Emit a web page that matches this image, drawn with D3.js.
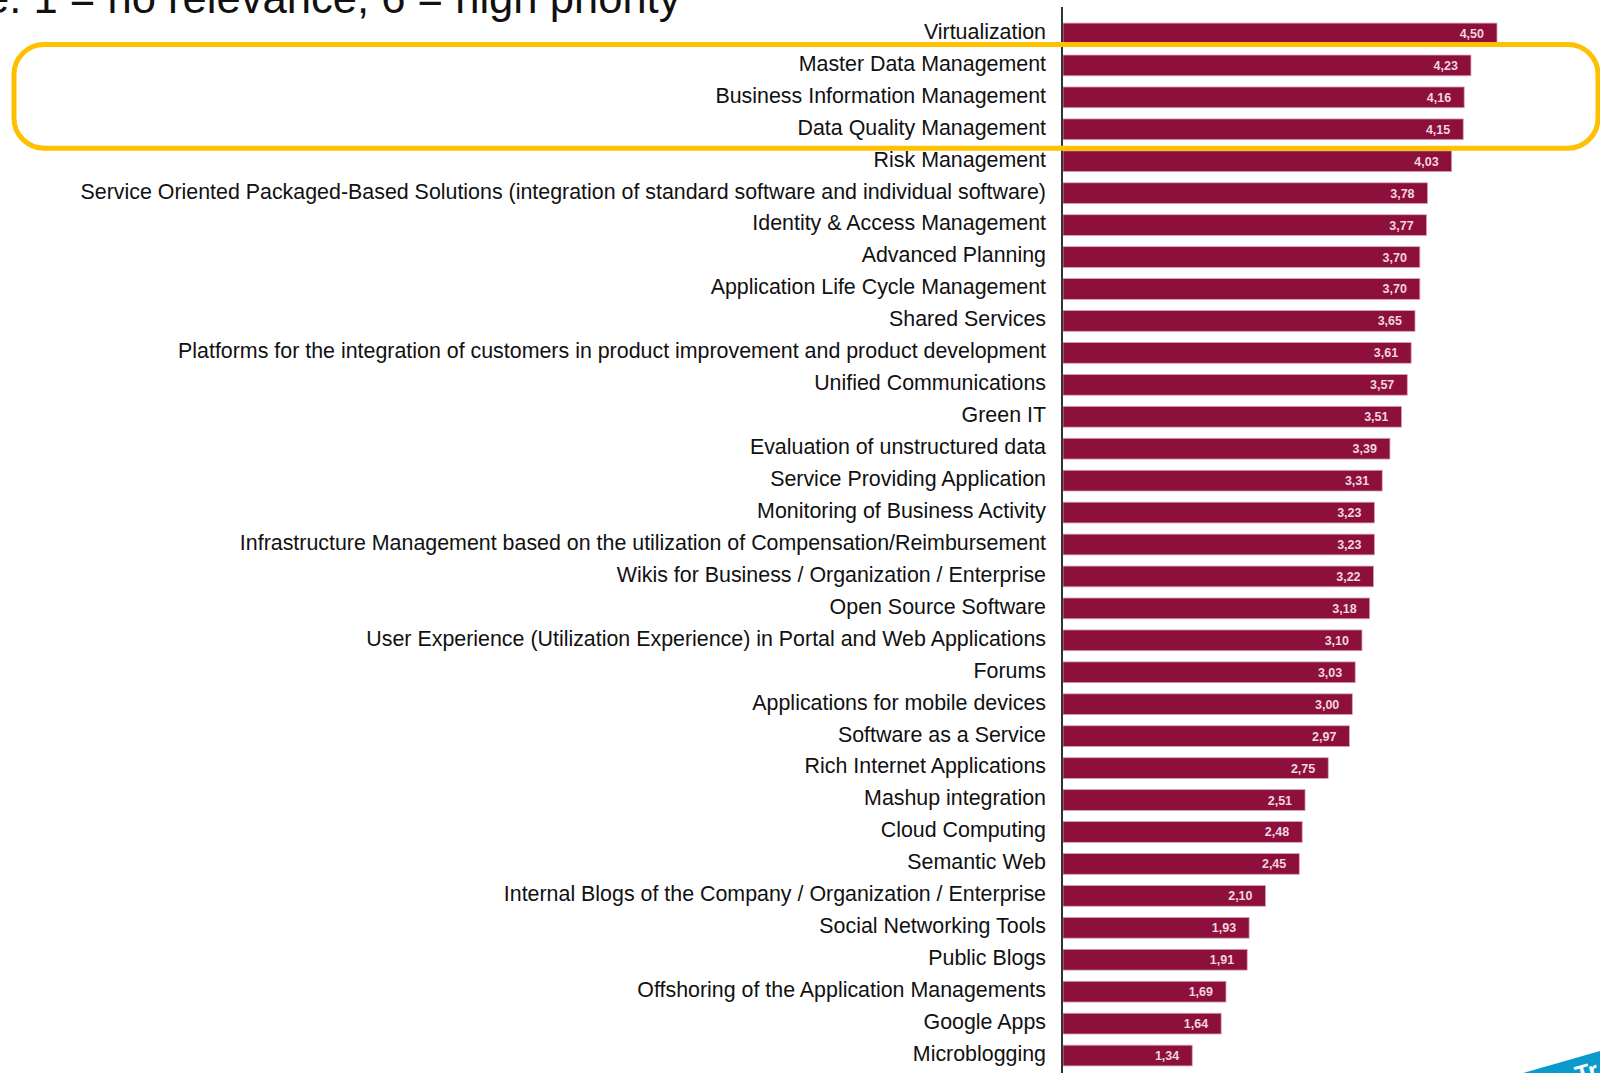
<!DOCTYPE html>
<html>
<head>
<meta charset="utf-8">
<script src="https://cdn.jsdelivr.net/npm/d3@7"></script>
<style>
  html, body { margin: 0; padding: 0; background: #ffffff; overflow: hidden; }
  svg { display: block; }
</style>
</head>
<body>
<svg id="chart" width="1600" height="1073"></svg>
<script>
const titleText = "e. 1 = no relevance, 6 = high priority";

const categories = [
  "Virtualization",
  "Master Data Management",
  "Business Information Management",
  "Data Quality Management",
  "Risk Management",
  "Service Oriented Packaged-Based Solutions (integration of standard software and individual software)",
  "Identity & Access Management",
  "Advanced Planning",
  "Application Life Cycle Management",
  "Shared Services",
  "Platforms for the integration of customers in product improvement and product development",
  "Unified Communications",
  "Green IT",
  "Evaluation of unstructured data",
  "Service Providing Application",
  "Monitoring of Business Activity",
  "Infrastructure Management based on the utilization of Compensation/Reimbursement",
  "Wikis for Business / Organization / Enterprise",
  "Open Source Software",
  "User Experience (Utilization Experience) in Portal and Web Applications",
  "Forums",
  "Applications for mobile devices",
  "Software as a Service",
  "Rich Internet Applications",
  "Mashup integration",
  "Cloud Computing",
  "Semantic Web",
  "Internal Blogs of the Company / Organization / Enterprise",
  "Social Networking Tools",
  "Public Blogs",
  "Offshoring of the Application Managements",
  "Google Apps",
  "Microblogging"
];

const values = [
  4.50, 4.23, 4.16, 4.15, 4.03, 3.78, 3.77, 3.70, 3.70, 3.65,
  3.61, 3.57, 3.51, 3.39, 3.31, 3.23, 3.23, 3.22, 3.18, 3.10,
  3.03, 3.00, 2.97, 2.75, 2.51, 2.48, 2.45, 2.10, 1.93, 1.91,
  1.69, 1.64, 1.34
];

const highlighted = ["Master Data Management", "Business Information Management", "Data Quality Management"];
const bannerText = "Tr";

const rows = categories.map((c, i) => ({ name: c, value: values[i] }));

const svg = d3.select("#chart");

const x = d3.scaleLinear().domain([0, 4.5]).range([1063, 1497]);
const y = d3.scaleBand()
  .domain(categories)
  .range([17.5, 17.5 + 33 * 31.94])
  .paddingInner(0.35)
  .paddingOuter(0.175);

const fmt = v => d3.format(".2f")(v).replace(".", ",");

// Title (clipped at top-left like the reference)
svg.append("text")
  .attr("x", -15)
  .attr("y", 13)
  .attr("font-family", "Liberation Sans, Arial, sans-serif")
  .attr("font-size", 43.6)
  .attr("fill", "#111")
  .text(titleText);

// Bars
svg.append("g").selectAll("rect")
  .data(rows)
  .join("rect")
  .attr("x", x(0))
  .attr("y", d => y(d.name))
  .attr("width", d => x(d.value) - x(0))
  .attr("height", y.bandwidth())
  .attr("fill", "#8d0f3b")
  .attr("stroke", "#d7a6b4")
  .attr("stroke-width", 0.8);

// Value labels inside bars
svg.append("g").selectAll("text")
  .data(rows)
  .join("text")
  .attr("x", d => x(d.value) - 13)
  .attr("y", d => y(d.name) + y.bandwidth() / 2)
  .attr("dy", "0.36em")
  .attr("text-anchor", "end")
  .attr("font-family", "Liberation Sans, Arial, sans-serif")
  .attr("font-weight", "bold")
  .attr("font-size", 12.5)
  .attr("fill", "#f0d6de")
  .text(d => fmt(d.value));

// Category axis labels
const yAxis = d3.axisLeft(y).tickSize(0).tickPadding(17);
const gAxis = svg.append("g")
  .attr("transform", `translate(${x(0)},0)`)
  .call(yAxis);
gAxis.select(".domain").remove();
gAxis.selectAll("text")
  .attr("font-family", "Liberation Sans, Arial, sans-serif")
  .attr("font-size", 21.4)
  .attr("fill", "#111")
  .attr("dy", "0.25em");

// Vertical axis line
svg.append("line")
  .attr("x1", x(0) - 1).attr("x2", x(0) - 1)
  .attr("y1", 7).attr("y2", 1073)
  .attr("stroke", "#333")
  .attr("stroke-width", 2);

// Highlight box around three categories
const hTop = y(highlighted[0]);
const hBottom = y(highlighted[highlighted.length - 1]) + y.bandwidth();
svg.append("rect")
  .attr("x", 14)
  .attr("y", hTop - 10.5)
  .attr("width", 1584)
  .attr("height", (hBottom + 8.5) - (hTop - 10.5))
  .attr("rx", 30)
  .attr("ry", 30)
  .attr("fill", "none")
  .attr("stroke", "#ffc000")
  .attr("stroke-width", 5);

// Blue corner banner
const banner = svg.append("g")
  .attr("transform", "translate(1600,1051) rotate(-16)");
banner.append("rect")
  .attr("x", -140).attr("y", 0)
  .attr("width", 200).attr("height", 45)
  .attr("fill", "#0a9acb");
banner.append("text")
  .attr("x", -30).attr("y", 25)
  .attr("font-family", "Liberation Sans, Arial, sans-serif")
  .attr("font-weight", "bold")
  .attr("font-size", 24)
  .attr("fill", "#ffffff")
  .text(bannerText);
</script>
</body>
</html>
